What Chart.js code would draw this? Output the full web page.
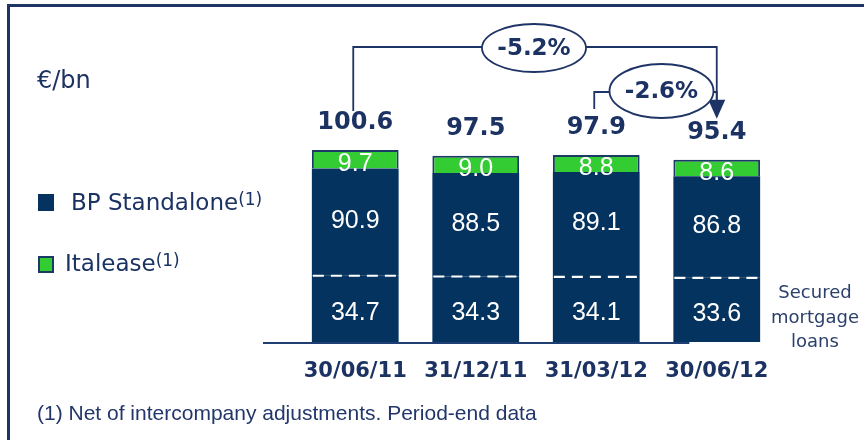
<!DOCTYPE html>
<html>
<head>
<meta charset="utf-8">
<script src="https://cdn.jsdelivr.net/npm/chart.js@4.4.1/dist/chart.umd.min.js"></script>
<style>
html, body { margin: 0; padding: 0; background: #fff; overflow: hidden; }
#wrap { position: relative; width: 864px; height: 440px; overflow: hidden;
  font-family: "DejaVu Sans", Verdana, sans-serif; color: #1b3263; }
#frame { position: absolute; left: 7px; top: 4px; width: 857px; height: 436px;
  border-left: 3px solid #1f3466; border-top: 3px solid #1f3466; }
#chart { position: absolute; left: 0; top: 0; }
.unit { position: absolute; left: 37px; top: 68px; font-size: 24px; line-height: 24px; }
.leg { position: absolute; left: 38px; font-size: 23px; line-height: 23px; white-space: nowrap; }
.leg .box { position: absolute; left: 0; width: 16px; height: 17px; box-sizing: border-box; }
.leg .txt { position: absolute; top: 0; }
.leg sup { font-size: 17px; position: relative; top: -3px; vertical-align: top; }
.note { position: absolute; left: 37px; top: 401px; font-family: "Liberation Sans", Arial, sans-serif;
  font-size: 21px; line-height: 24px; color: #22366a; white-space: nowrap; }
.secured { position: absolute; left: 755px; width: 120px; top: 280px; text-align: center;
  font-size: 18px; line-height: 24.5px; color: #2a3f6a; }
</style>
</head>
<body>
<div id="wrap">
  <div id="frame"></div>
  <canvas id="chart" width="864" height="440"></canvas>
  <div class="unit">€/bn</div>
  <div id="legend"></div>
  <div class="secured">Secured<br>mortgage<br>loans</div>
  <div class="note">(1) Net of intercompany adjustments. Period-end data</div>
</div>
<script>
// Values
const categories = ['30/06/11', '31/12/11', '31/03/12', '30/06/12'];
const standalone = [90.9, 88.5, 89.1, 86.8];
const mortgage = [34.7, 34.3, 34.1, 33.6];
const italease = [9.7, 9.0, 8.8, 8.6];
const totals = [100.6, 97.5, 97.9, 95.4];
const changeLabels = ['-5.2%', '-2.6%'];
const changeFrom = [0, 2];
const changeTo = [3, 3];

const NAVY = '#05335f';
const GREEN = '#33cc33';
const INK = '#1f3466';

// Mortgage part sits at the bottom of the standalone bar
const standaloneRest = standalone.map((v, i) => +(v - mortgage[i]).toFixed(1));

const drawExtras = {
  id: 'drawExtras',
  beforeDatasetsDraw(chart) {
    const ctx = chart.ctx;
    const y0 = chart.scales.y.getPixelForValue(0);
    const bars = chart.getDatasetMeta(0).data;
    ctx.save();
    ctx.strokeStyle = '#1f3e73';
    ctx.lineWidth = 2;
    ctx.beginPath();
    ctx.moveTo(chart.chartArea.left - 32, y0 + 1);
    ctx.lineTo(bars[3].x - bars[3].width / 2 + 16, y0 + 1);
    ctx.stroke();
    ctx.restore();
  },
  afterDatasetsDraw(chart) {
    const ctx = chart.ctx;
    const m0 = chart.getDatasetMeta(0).data;
    const m1 = chart.getDatasetMeta(1).data;
    const m2 = chart.getDatasetMeta(2).data;
    ctx.save();

    // white dashed split inside the standalone bar
    ctx.strokeStyle = '#ffffff';
    ctx.lineWidth = 2.2;
    ctx.setLineDash([11, 7]);
    m0.forEach(b => {
      ctx.beginPath();
      ctx.moveTo(b.x - b.width / 2 + 1, b.y);
      ctx.lineTo(b.x + b.width / 2 - 1, b.y);
      ctx.stroke();
    });
    ctx.setLineDash([]);

    // values inside the bars
    ctx.fillStyle = '#ffffff';
    ctx.font = '25px "Liberation Sans", Arial, sans-serif';
    ctx.textAlign = 'center';
    ctx.textBaseline = 'middle';
    categories.forEach((c, i) => {
      ctx.fillText(mortgage[i].toFixed(1), m0[i].x, (m0[i].y + m0[i].base) / 2 + 4);
      ctx.fillText(standalone[i].toFixed(1), m1[i].x, (m1[i].y + m1[i].base) / 2 - 1);
      ctx.fillText(italease[i].toFixed(1), m2[i].x, (m2[i].y + m2[i].base) / 2 + 5);
    });

    // totals above
    ctx.fillStyle = '#1b3263';
    ctx.font = 'bold 24px "DejaVu Sans", Verdana, sans-serif';
    const labelY = totals.map((t, i) => chart.scales.y.getPixelForValue(t) - 27);
    totals.forEach((t, i) => ctx.fillText(t.toFixed(1), m2[i].x, labelY[i]));

    // change brackets
    ctx.strokeStyle = INK;
    ctx.lineWidth = 1.8;
    const levels = [47, 92];
    const radii = [[52, 24], [52, 27]];
    const shifts = [-2, 5];
    changeLabels.forEach((lab, k) => {
      const xa = m2[changeFrom[k]].x - 2;
      const xb = m2[changeTo[k]].x;
      const ya = labelY[changeFrom[k]] - (k === 0 ? 12 : 19);
      const lv = levels[k];
      ctx.beginPath();
      ctx.moveTo(xa, ya);
      ctx.lineTo(xa, lv);
      ctx.lineTo(xb, lv);
      ctx.lineTo(xb, labelY[changeTo[k]] - 32);
      ctx.stroke();
    });
    // arrow head on the last bar
    const xt = m2[3].x;
    const tip = labelY[3] - 14;
    ctx.fillStyle = INK;
    ctx.beginPath();
    ctx.moveTo(xt - 8.5, tip - 19);
    ctx.lineTo(xt + 8.5, tip - 19);
    ctx.lineTo(xt, tip);
    ctx.closePath();
    ctx.fill();

    changeLabels.forEach((lab, k) => {
      const cx = (m2[changeFrom[k]].x + m2[changeTo[k]].x) / 2 + shifts[k];
      const cy = levels[k] + (k === 0 ? 1 : -1);
      ctx.beginPath();
      ctx.ellipse(cx, cy, radii[k][0], radii[k][1], 0, 0, Math.PI * 2);
      ctx.fillStyle = '#ffffff';
      ctx.fill();
      ctx.stroke();
      ctx.fillStyle = '#1b3263';
      ctx.font = 'bold 23px "DejaVu Sans", Verdana, sans-serif';
      ctx.fillText(lab, cx, cy + 1);
    });
    ctx.restore();
  }
};

const chart = new Chart(document.getElementById('chart').getContext('2d'), {
  type: 'bar',
  data: {
    labels: categories,
    datasets: [
      { label: 'Secured mortgage loans', data: mortgage, backgroundColor: NAVY, borderWidth: 0 },
      { label: 'BP Standalone', data: standaloneRest, backgroundColor: NAVY, borderWidth: 0 },
      { label: 'Italease', data: italease, backgroundColor: GREEN, borderColor: '#1c3a66', borderWidth: 2 }
    ]
  },
  options: {
    responsive: false,
    animation: false,
    devicePixelRatio: 1,
    layout: { padding: { left: 295, right: 87, top: 132, bottom: 0 } },
    datasets: { bar: { categoryPercentage: 1, barPercentage: 0.72 } },
    plugins: { legend: { display: false }, tooltip: { enabled: false } },
    scales: {
      x: {
        stacked: true,
        grid: { display: false, drawTicks: false },
        border: { display: false },
        ticks: {
          color: '#1b3263',
          padding: 17,
          font: { family: '"DejaVu Sans", Verdana, sans-serif', size: 21, weight: 'bold' }
        },
        afterFit(scale) { scale.height = 98; }
      },
      y: { stacked: true, display: false, min: 0, max: 110 }
    }
  },
  plugins: [drawExtras]
});

// Legend built from the dataset styles
const legendTops = [191, 252];
const boxTops = [3, 4];
const textLefts = [33, 27];
[1, 2].forEach((di, n) => {
  const ds = chart.data.datasets[di];
  const item = document.createElement('div');
  item.className = 'leg';
  item.style.top = legendTops[n] + 'px';
  const box = document.createElement('span');
  box.className = 'box';
  box.style.top = boxTops[n] + 'px';
  box.style.background = ds.backgroundColor;
  if (ds.borderWidth) box.style.border = '2px solid ' + ds.borderColor;
  const txt = document.createElement('span');
  txt.className = 'txt';
  txt.style.left = textLefts[n] + 'px';
  txt.innerHTML = ds.label + '<sup>(1)</sup>';
  item.appendChild(box);
  item.appendChild(txt);
  document.getElementById('legend').appendChild(item);
});
</script>
</body>
</html>
